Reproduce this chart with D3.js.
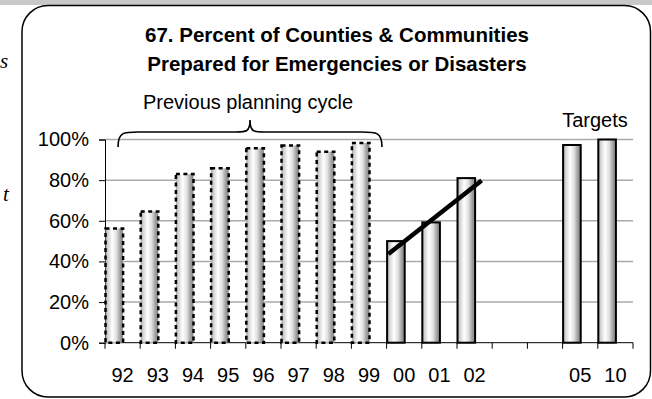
<!DOCTYPE html>
<html><head><meta charset="utf-8">
<script src="https://cdn.jsdelivr.net/npm/d3@7"></script>
<style>body{margin:0;background:#fff}svg{display:block}</style>
</head><body>
<script>
const categories = ["92","93","94","95","96","97","98","99","00","01","02","03","04","05","10"];
const labels = ["92","93","94","95","96","97","98","99","00","01","02","","","05","10"];
const previousValues = [56.2,64.6,83.0,85.8,95.7,97.1,94.0,98.3,null,null,null,null,null,null,null];
const currentValues = [null,null,null,null,null,null,null,null,50.0,59.2,81.0,null,null,null,null];
const targetValues = [null,null,null,null,null,null,null,null,null,null,null,null,null,97.3,100];
const yTicks = [0,20,40,60,80,100];
const trendPoints = [{cat:"00", frac:0.05, value:43.6},{cat:"02", frac:0.70, value:79.8}];
const titleLines = ["67. Percent of Counties & Communities","Prepared for Emergencies or Disasters"];

const W=652,H=399;
const svg=d3.select("body").append("svg").attr("width",W).attr("height",H);
const defs=svg.append("defs");
const g1=defs.append("linearGradient").attr("id","cyl").attr("x1","0").attr("x2","1").attr("y1","0").attr("y2","0");
[[0,"#a0a0a0"],[0.12,"#cfcfcf"],[0.38,"#ffffff"],[0.62,"#e0e0e0"],[0.85,"#9a9a9a"],[1,"#8a8a8a"]].forEach(s=>g1.append("stop").attr("offset",s[0]).attr("stop-color",s[1]));

// top grey strip
svg.append("rect").attr("x",0).attr("y",0).attr("width",W).attr("height",5).attr("fill","#c8c8c8");
// frame
svg.append("rect").attr("x",22).attr("y",5.5).attr("width",628.5).attr("height",391.5).attr("rx",26).attr("ry",26)
  .attr("fill","#fff").attr("stroke","#000").attr("stroke-width",1.5);

// stray page text on left
svg.append("text").attr("x",0).attr("y",68).text("s").attr("font-family","Liberation Serif").attr("font-style","italic").attr("font-size",21);
svg.append("text").attr("x",3).attr("y",201).text("t").attr("font-family","Liberation Serif").attr("font-style","italic").attr("font-size",21);

const x=d3.scaleBand().domain(categories).range([105,633]).padding(0);
const y=d3.scaleLinear().domain([0,100]).range([342.7,139.5]);

// gridlines
svg.append("g").selectAll("line").data(yTicks.filter(d=>d>0)).join("line")
  .attr("x1",105).attr("x2",633).attr("y1",d=>y(d)).attr("y2",d=>y(d))
  .attr("stroke","#aaaaaa").attr("stroke-width",1.5);

const font="Liberation Sans, Arial, sans-serif";
// y axis
const yAxis=svg.append("g").attr("transform","translate(105,0)")
  .call(d3.axisLeft(y).tickValues(yTicks).tickSize(6).tickPadding(10).tickFormat(d=>d+"%"));
yAxis.select(".domain").attr("stroke","#000");
yAxis.selectAll("text").attr("font-family",font).attr("font-size",20).attr("fill","#000");

// x axis
const xAxis=svg.append("g").attr("transform","translate(0,342.7)");
xAxis.append("line").attr("x1",105).attr("x2",633).attr("stroke","#000");
xAxis.selectAll("line.t").data(categories.concat(["end"])).join("line").attr("class","t")
  .attr("x1",(d,i)=>i<categories.length?x(d):633).attr("x2",(d,i)=>i<categories.length?x(d):633)
  .attr("y1",0).attr("y2",6).attr("stroke","#000");
xAxis.selectAll("text").data(categories).join("text")
  .attr("x",d=>x(d)+x.bandwidth()/2).attr("y",39).attr("text-anchor","middle")
  .attr("font-family",font).attr("font-size",20).text((d,i)=>labels[i]);

const bw=x.bandwidth()*0.5;
function bars(vals,dashed){
  const data=categories.map((c,i)=>({c,v:vals[i]})).filter(d=>d.v!=null);
  svg.append("g").selectAll("rect").data(data).join("rect")
    .attr("x",d=>x(d.c)+0.5).attr("width",bw).attr("y",d=>y(d.v)).attr("height",d=>y(0)-y(d.v))
    .attr("fill","url(#cyl)").attr("stroke","#000").attr("stroke-width",dashed?2.5:2)
    .attr("stroke-dasharray",dashed?"4,3.5":null);
}
bars(previousValues,true);
bars(currentValues,false);
bars(targetValues,false);

// trend line
svg.append("line")
  .attr("x1",x(trendPoints[0].cat)+x.bandwidth()*trendPoints[0].frac).attr("y1",y(trendPoints[0].value))
  .attr("x2",x(trendPoints[1].cat)+x.bandwidth()*trendPoints[1].frac).attr("y2",y(trendPoints[1].value))
  .attr("stroke","#000").attr("stroke-width",4.5);

// title
svg.append("g").selectAll("text").data(titleLines).join("text")
  .attr("x",337).attr("y",(d,i)=>42+i*29).attr("text-anchor","middle")
  .attr("font-family",font).attr("font-weight","bold").attr("font-size",20.5).text(d=>d);

// annotation
svg.append("text").attr("x",248).attr("y",109).attr("text-anchor","middle")
  .attr("font-family",font).attr("font-size",20).text("Previous planning cycle");
svg.append("text").attr("x",595).attr("y",127).attr("text-anchor","middle")
  .attr("font-family",font).attr("font-size",20).text("Targets");

// brace
const bx0=118,bx1=382,bm=250,by0=147,by1=132,bp=120;
svg.append("path").attr("fill","none").attr("stroke","#000").attr("stroke-width",1.6)
  .attr("d",`M${bx0},${by0} C${bx0},${by1} ${bx0+6},${by1} ${bx0+20},${by1} L${bm-14},${by1} C${bm-4},${by1} ${bm},${by1} ${bm},${bp} C${bm},${by1} ${bm+4},${by1} ${bm+14},${by1} L${bx1-20},${by1} C${bx1-6},${by1} ${bx1},${by1} ${bx1},${by0}`);
</script>
</body></html>
